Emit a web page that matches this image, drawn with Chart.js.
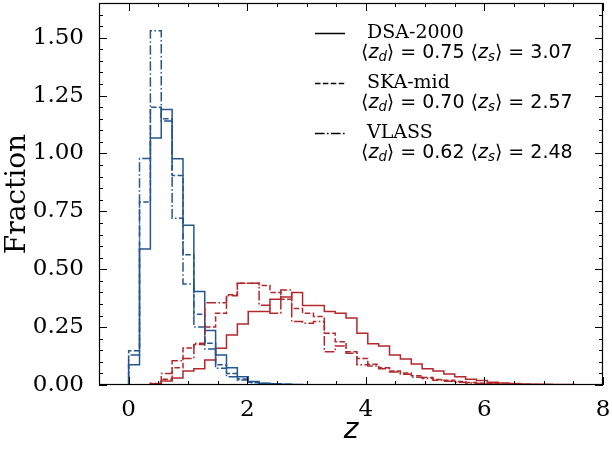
<!DOCTYPE html>
<html><head><meta charset="utf-8">
<script src="https://cdn.jsdelivr.net/npm/chart.js@4.4.0/dist/chart.umd.min.js"></script>
<style>html,body{margin:0;padding:0;background:#fff}canvas{display:block}</style>
</head><body>
<canvas id="c" width="612" height="450"></canvas>
<script>
// ---- data ----
const binWidth = 0.18333;            // histogram bin width in z
const surveys = ['DSA-2000', 'SKA-mid', 'VLASS'];
const meanZd = ['0.75', '0.70', '0.62'];
const meanZs = ['3.07', '2.57', '2.48'];

// deflector (lens) redshift distributions (blue)
const deflDSA   = [0.088, 0.587, 1.067, 1.19, 0.977, 0.69, 0.404, 0.235, 0.13, 0.075, 0.036, 0.015, 0.008, 0.005, 0.003, 0.002, 0.001, 0.001];
const deflSKA   = [0.148, 0.79, 1.20, 1.15, 0.905, 0.563, 0.306, 0.18, 0.087, 0.05, 0.026, 0.012, 0.006, 0.004, 0.002, 0.001, 0.001];
const deflVLASS = [0.13, 0.978, 1.53, 1.14, 0.72, 0.436, 0.25, 0.155, 0.072, 0.036, 0.022, 0.01, 0.005, 0.003, 0.002, 0.001];

// source redshift distributions (red)
const srcDSA   = [0, 0, 0.005, 0.017, 0.03, 0.06, 0.07, 0.108, 0.159, 0.216, 0.264, 0.317, 0.317, 0.37, 0.38, 0.40, 0.343, 0.343, 0.317, 0.31, 0.289, 0.224, 0.178, 0.168, 0.13, 0.112, 0.091, 0.07, 0.06, 0.047, 0.036, 0.025, 0.019, 0.012, 0.009, 0.007, 0.004, 0.003, 0.003, 0.002, 0.002, 0.001, 0.001, 0.001];
const srcSKA   = [0, 0, 0.003, 0.025, 0.075, 0.16, 0.175, 0.25, 0.31, 0.39, 0.44, 0.44, 0.43, 0.40, 0.37, 0.33, 0.31, 0.296, 0.224, 0.187, 0.144, 0.115, 0.09, 0.075, 0.06, 0.052, 0.04, 0.032, 0.024, 0.02, 0.015, 0.011, 0.008, 0.006, 0.004, 0.003, 0.002, 0.002, 0.001, 0.001, 0.001, 0.001, 0, 0];
const srcVLASS = [0, 0, 0.008, 0.05, 0.105, 0.115, 0.18, 0.355, 0.355, 0.385, 0.44, 0.44, 0.345, 0.31, 0.41, 0.274, 0.267, 0.274, 0.144, 0.168, 0.137, 0.087, 0.082, 0.07, 0.056, 0.046, 0.034, 0.028, 0.02, 0.016, 0.012, 0.009, 0.006, 0.004, 0.003, 0.002, 0.001, 0.001, 0.001, 0, 0, 0, 0, 0];

// tick labels
const xMajor = [0, 2, 4, 6, 8];
const xLabels = ['0', '2', '4', '6', '8'];
const yMajor = [0, 0.25, 0.5, 0.75, 1.0, 1.25, 1.5];
const yLabels = ['0.00', '0.25', '0.50', '0.75', '1.00', '1.25', '1.50'];

// ---- styles ----
const BLUE = '#24568f';
const RED = '#b3282c';
const dashes = [[], [5.5, 2.4], [9.6, 2.4, 1.6, 2.4]];

function stepPoints(h) {
  const pts = [{x: 0, y: 0}];
  h.forEach((v, i) => pts.push({x: i * binWidth, y: v}));
  pts.push({x: h.length * binWidth, y: 0});
  return pts;
}

const deflSets = [deflDSA, deflSKA, deflVLASS];
const srcSets = [srcDSA, srcSKA, srcVLASS];
const datasets = [];
surveys.forEach((name, i) => {
  datasets.push({label: name + ' z_d', data: stepPoints(deflSets[i]), borderColor: BLUE,
    borderWidth: 1.5, borderDash: dashes[i], stepped: 'before', pointRadius: 0, fill: false, order: 10 - 2 * i});
  datasets.push({label: name + ' z_s', data: stepPoints(srcSets[i]), borderColor: RED,
    borderWidth: 1.5, borderDash: dashes[i], stepped: 'before', pointRadius: 0, fill: false, order: 11 - 2 * i});
});

function findLabel(v, majors, labels) {
  const k = majors.findIndex(m => Math.abs(m - v) < 1e-6);
  return k >= 0 ? labels[k] : '';
}

const frameTicks = {
  id: 'frameTicks',
  afterDraw(chart) {
    const {ctx, chartArea: a, scales: {x, y}} = chart;
    ctx.save();
    ctx.strokeStyle = '#000';
    ctx.lineWidth = 1;
    ctx.beginPath();
    x.ticks.forEach(t => {
      const len = t.label !== '' ? 8 : 4;
      const px = Math.round(x.getPixelForValue(t.value)) + 0.5;
      ctx.moveTo(px, a.bottom); ctx.lineTo(px, a.bottom - len);
      ctx.moveTo(px, a.top); ctx.lineTo(px, a.top + len);
    });
    y.ticks.forEach(t => {
      const len = t.label !== '' ? 8 : 4;
      const py = Math.round(y.getPixelForValue(t.value)) + 0.5;
      ctx.moveTo(a.left, py); ctx.lineTo(a.left + len, py);
      ctx.moveTo(a.right, py); ctx.lineTo(a.right - len, py);
    });
    ctx.stroke();
    ctx.lineWidth = 1.2;
    ctx.strokeRect(a.left + 0.5, a.top + 0.5, a.right - a.left - 1, a.bottom - a.top - 1);
    ctx.restore();
  }
};

function drawMath(ctx, x, y, parts, size) {
  for (const p of parts) {
    const fs = p.sub ? size * 0.7 : size;
    ctx.font = (p.it ? 'italic ' : '') + fs + 'px "DejaVu Sans"';
    ctx.fillText(p.t, x, y + (p.sub ? size * 0.22 : 0));
    x += ctx.measureText(p.t).width;
  }
}

const mathLegend = {
  id: 'mathLegend',
  afterDraw(chart) {
    const {ctx, chartArea: a} = chart;
    ctx.save();
    ctx.fillStyle = '#000';
    ctx.strokeStyle = '#000';
    ctx.textBaseline = 'middle';
    ctx.textAlign = 'left';
    surveys.forEach((name, i) => {
      const yy = a.top + 30 + 50 * i;
      ctx.lineWidth = 1.5;
      ctx.setLineDash(dashes[i]);
      ctx.beginPath();
      ctx.moveTo(a.left + 216, yy + 0.5);
      ctx.lineTo(a.left + 246, yy + 0.5);
      ctx.stroke();
      ctx.setLineDash([]);
      ctx.font = '19px "DejaVu Serif"';
      ctx.fillText(name, a.left + 268, yy);
      drawMath(ctx, a.left + 262, yy + 20, [
        {t: '\u27E8'}, {t: 'z', it: 1}, {t: 'd', it: 1, sub: 1},
        {t: '\u27E9 = ' + meanZd[i] + ' \u27E8'}, {t: 'z', it: 1}, {t: 's', it: 1, sub: 1},
        {t: '\u27E9 = ' + meanZs[i]}
      ], 19);
    });
    ctx.restore();
  }
};

Chart.defaults.font.family = '"DejaVu Serif"';
Chart.defaults.color = '#000';

new Chart(document.getElementById('c'), {
  type: 'line',
  data: {datasets},
  options: {
    responsive: false,
    devicePixelRatio: 1,
    animation: false,
    layout: {padding: {top: 3, right: 9, left: 0, bottom: 0}, autoPadding: false},
    plugins: {legend: {display: false}, tooltip: {enabled: false}},
    elements: {line: {tension: 0}},
    scales: {
      x: {
        type: 'linear', min: -0.5, max: 8,
        grid: {display: false}, border: {display: false},
        ticks: {stepSize: 0.5, autoSkip: false, maxRotation: 0, padding: 3,
          font: {size: 23, lineHeight: 1.2},
          callback: v => findLabel(v, xMajor, xLabels)},
        title: {display: true, text: 'z', padding: {top: 0, bottom: 2},
          font: {family: '"DejaVu Sans"', style: 'italic', size: 28, lineHeight: 1.2}},
        afterFit: s => { s.height = 65; s.paddingLeft = 0; s.paddingRight = 0; }
      },
      y: {
        type: 'linear', min: 0, max: 1.65,
        grid: {display: false}, border: {display: false},
        ticks: {stepSize: 0.05, autoSkip: false, padding: 7,
          font: {size: 23, lineHeight: 1.2},
          callback: v => findLabel(v, yMajor, yLabels)},
        title: {display: true, text: 'Fraction', padding: {top: 1, bottom: 0},
          font: {size: 28, lineHeight: 1.2}},
        afterFit: s => { s.width = 99; s.paddingTop = 0; s.paddingBottom = 0; }
      }
    }
  },
  plugins: [frameTicks, mathLegend]
});
</script>
</body></html>
